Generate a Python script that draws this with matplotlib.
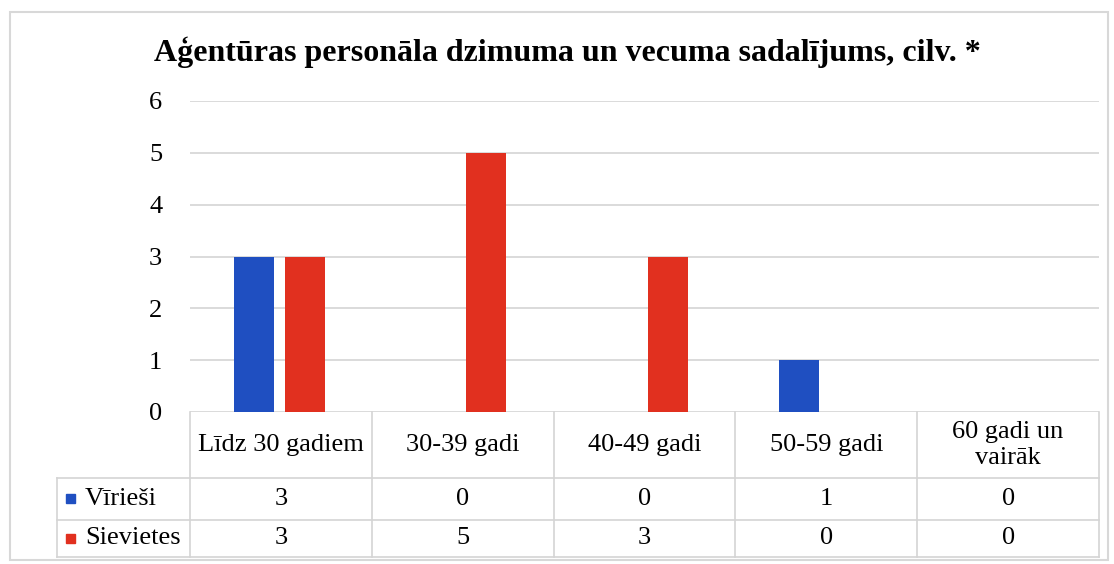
import matplotlib
matplotlib.use("Agg")
import matplotlib.pyplot as plt
from matplotlib.patches import Rectangle
from matplotlib.lines import Line2D
import matplotlib.transforms as mtransforms

# data
categories = ["Līdz 30 gadiem", "30-39 gadi", "40-49 gadi", "50-59 gadi", "60 gadi un\nvairāk"]
series_names = ["Vīrieši", "Sievietes"]
virieshi = [3, 0, 0, 1, 0]
sievietes = [3, 5, 3, 0, 0]
title = "Aģentūras personāla dzimuma un vecuma sadalījums, cilv. *"

BLUE = "#1f4fc1"
RED = "#e1301f"
GRID = "#d4d4d4"
W, H = 1114, 564

plt.rcParams["font.family"] = ["Liberation Serif", "DejaVu Serif"]

fig = plt.figure(figsize=(W / 100, H / 100), dpi=100)
ax = fig.add_axes([190 / W, (H - 412) / H, 909 / W, 311 / H])

x = list(range(len(categories)))
ax.bar([i - 0.15 for i in x], virieshi, width=0.22, color=BLUE, zorder=3)
ax.bar([i + 0.13 for i in x], sievietes, width=0.22, color=RED, zorder=3)

ax.set_xlim(-0.5, len(categories) - 0.5)
ax.set_ylim(0, 6)
ax.set_yticks(range(7))
ax.tick_params(axis="y", length=0, pad=20, labelsize=19)
ax.set_xticks([])
for s in ax.spines.values():
    s.set_visible(False)
ax.grid(axis="y", color=GRID, linewidth=1.2, zorder=0)

# data table under the plot
trans = mtransforms.blended_transform_factory(ax.transData, ax.transAxes)
row_y = [0.0, -0.212, -0.347, -0.466]
lab_x = -0.1463
line_kw = dict(color=GRID, linewidth=1.2, clip_on=False)

for k in range(len(categories) + 1):
    ax.add_line(Line2D([k - 0.5, k - 0.5], [row_y[0], row_y[-1]], transform=trans, **line_kw))
for yy in row_y[1:]:
    ax.add_line(Line2D([lab_x, 1], [yy, yy], transform=ax.transAxes, **line_kw))
ax.add_line(Line2D([lab_x, lab_x], [row_y[1], row_y[-1]], transform=ax.transAxes, **line_kw))

for i, cat in enumerate(categories):
    ax.text(i, (row_y[0] + row_y[1]) / 2, cat, transform=trans, ha="center", va="center",
            fontsize=19, linespacing=1.2)

for r, (name, vals, col) in enumerate(zip(series_names, [virieshi, sievietes], [BLUE, RED])):
    yc = (row_y[r + 1] + row_y[r + 2]) / 2
    ax.add_patch(Rectangle((-0.1364, yc - 0.0145), 0.0099, 0.029, transform=ax.transAxes,
                           color=col, clip_on=False))
    ax.text(-0.1155, yc, name, transform=ax.transAxes, ha="left", va="center", fontsize=19)
    for i, v in enumerate(vals):
        ax.text(i, yc, str(v), transform=trans, ha="center", va="center", fontsize=19)

fig.text(567 / W, 1 - 52 / H, title, ha="center", va="center", fontsize=23, fontweight="bold")

# outer chart border
fig.patches.append(Rectangle((10 / W, 4 / H), 1098 / W, 548 / H, transform=fig.transFigure,
                             fill=False, edgecolor="#d8d8d8", linewidth=1.5))

fig.savefig("out.png", dpi=100)
